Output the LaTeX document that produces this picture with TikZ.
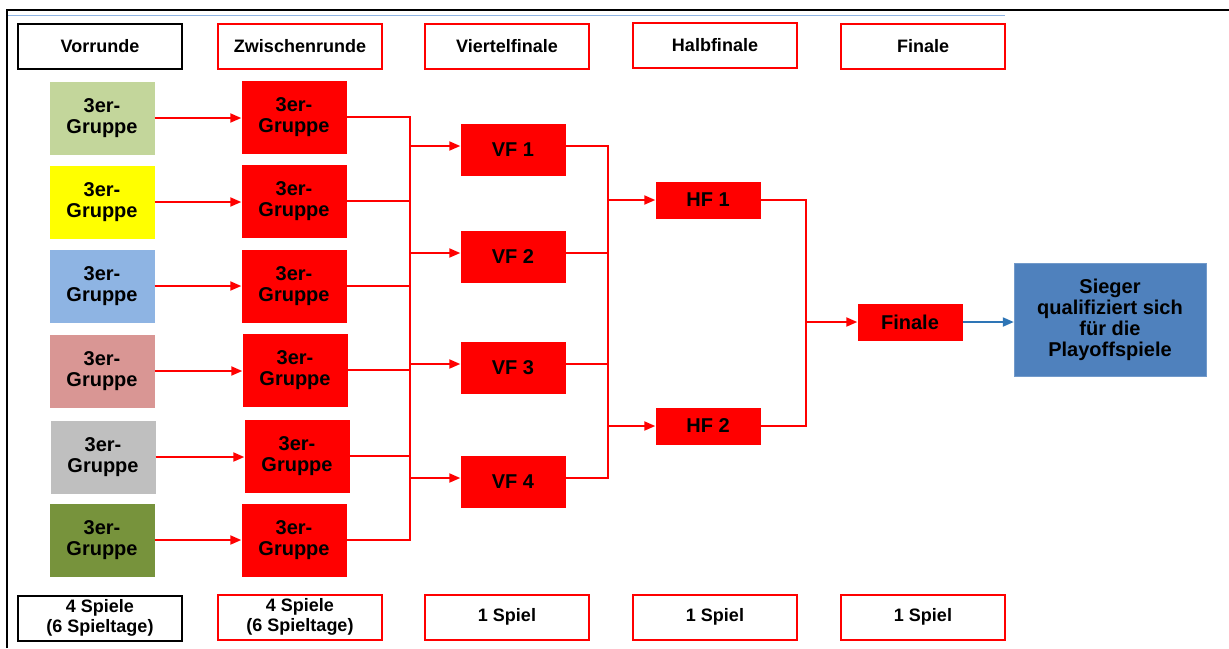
\documentclass[tikz,border=0pt]{standalone}
\usepackage{fontspec}
\setmainfont{Liberation Sans}
\usetikzlibrary{arrows.meta}

\definecolor{grpgreen}{HTML}{C3D69B}
\definecolor{grpyellow}{HTML}{FFFF00}
\definecolor{grpblue}{HTML}{8EB4E3}
\definecolor{grprose}{HTML}{D99694}
\definecolor{grpgrey}{HTML}{BFBFBF}
\definecolor{grpolive}{HTML}{77933C}
\definecolor{siegblue}{HTML}{4F81BD}
\definecolor{arrblue}{HTML}{2E75B6}
\definecolor{titleblue}{HTML}{8EB4E3}

\tikzset{
  hdr/.style={draw=red, line width=2pt, minimum width=164pt, minimum height=45pt,
    align=center, inner sep=0pt, font=\bfseries\fontsize{18}{20}\selectfont},
  grp/.style={minimum width=105pt, minimum height=73pt, align=center, inner sep=0pt,
    font=\bfseries\fontsize{20}{21}\selectfont},
  redbox/.style={fill=red, minimum width=105pt, minimum height=52pt, inner sep=0pt,
    font=\bfseries\fontsize{20}{21}\selectfont},
  rline/.style={draw=red, line width=2pt},
  rarrow/.style={rline, -{Triangle[length=11pt,width=9pt]}}
}

\begin{document}
\begin{tikzpicture}[x=1pt,y=-1pt]
\useasboundingbox (0,0) rectangle (1229,648);

% frame of the slide
\draw[line width=2.2pt] (7,648) -- (7,10) -- (1229,10);
\draw[titleblue, line width=1.2pt] (8,15.5) -- (1005,15.5);

% header row
\node[hdr, draw=black] (h1) at (100,46) {Vorrunde};
\node[hdr] (h2) at (300,46) {Zwischenrunde};
\node[hdr] (h3) at (507,46) {Viertelfinale};
\node[hdr] (h4) at (715,45) {Halbfinale};
\node[hdr] (h5) at (923,46) {Finale};

% Vorrunde groups
\node[grp, fill=grpgreen] (v1) at (102,118) {3er-\\Gruppe};
\node[grp, fill=grpyellow] (v2) at (102,202) {3er-\\Gruppe};
\node[grp, fill=grpblue] (v3) at (102,286) {3er-\\Gruppe};
\node[grp, fill=grprose] (v4) at (102,371) {3er-\\Gruppe};
\node[grp, fill=grpgrey] (v5) at (103,457) {3er-\\Gruppe};
\node[grp, fill=grpolive] (v6) at (102,540) {3er-\\Gruppe};

% Zwischenrunde groups
\node[grp, fill=red] (z1) at (294,117) {3er-\\Gruppe};
\node[grp, fill=red] (z2) at (294,201) {3er-\\Gruppe};
\node[grp, fill=red] (z3) at (294,286) {3er-\\Gruppe};
\node[grp, fill=red] (z4) at (295,370) {3er-\\Gruppe};
\node[grp, fill=red] (z5) at (297,456) {3er-\\Gruppe};
\node[grp, fill=red] (z6) at (294,540) {3er-\\Gruppe};

\foreach \i in {1,...,6}
  \draw[rarrow] (v\i.east) -- (z\i.west |- v\i.east);

% Viertelfinale
\node[redbox] (vf1) at (513,150) {VF 1};
\node[redbox] (vf2) at (513,257) {VF 2};
\node[redbox] (vf3) at (513,368) {VF 3};
\node[redbox] (vf4) at (513,482) {VF 4};

\coordinate (zbar) at (410,0);
\draw[rline] (z1.east) -- (z1.east -| zbar) -- (z6.east -| zbar) -- (z6.east);
\foreach \i in {2,...,5}
  \draw[rline] (z\i.east) -- (z\i.east -| zbar);
\foreach \i in {1,...,4}
  \draw[rarrow] ([yshift=4pt]vf\i.west -| zbar) -- ([yshift=4pt]vf\i.west);

% Halbfinale
\node[redbox, minimum height=37pt] (hf1) at (708,200) {HF 1};
\node[redbox, minimum height=37pt] (hf2) at (708,426) {HF 2};

\coordinate (vbar) at (608,0);
\draw[rline] ([yshift=4pt]vf1.east) -- ([yshift=4pt]vf1.east -| vbar)
  -- ([yshift=4pt]vf4.east -| vbar) -- ([yshift=4pt]vf4.east);
\draw[rline] ([yshift=4pt]vf2.east) -- ([yshift=4pt]vf2.east -| vbar);
\draw[rline] ([yshift=4pt]vf3.east) -- ([yshift=4pt]vf3.east -| vbar);
\draw[rarrow] (hf1.west -| vbar) -- (hf1.west);
\draw[rarrow] (hf2.west -| vbar) -- (hf2.west);

% Finale and winner
\node[redbox, minimum height=37pt] (fin) at (910,322) {Finale};
\node[fill=siegblue, draw=siegblue!80!white, minimum width=192pt, minimum height=113pt,
  align=center, inner sep=0pt, font=\bfseries\fontsize{20}{21}\selectfont]
  (sieg) at (1110,320) {Sieger\\qualifiziert sich\\für die\\Playoffspiele};

\coordinate (hbar) at (806,0);
\draw[rline] (hf1.east) -- (hf1.east -| hbar) -- (hf2.east -| hbar) -- (hf2.east);
\draw[rarrow] (fin.west -| hbar) -- (fin.west);
\draw[arrblue, line width=2pt, -{Triangle[length=11pt,width=9pt]}] (fin.east) -- (sieg.west |- fin.east);

% number of games
\node[hdr, draw=black] (b1) at (100,618) {4 Spiele\\(6 Spieltage)};
\node[hdr] (b2) at (300,617) {4 Spiele\\(6 Spieltage)};
\node[hdr] (b3) at (507,617) {1 Spiel};
\node[hdr] (b4) at (715,617) {1 Spiel};
\node[hdr] (b5) at (923,617) {1 Spiel};
\end{tikzpicture}
\end{document}
